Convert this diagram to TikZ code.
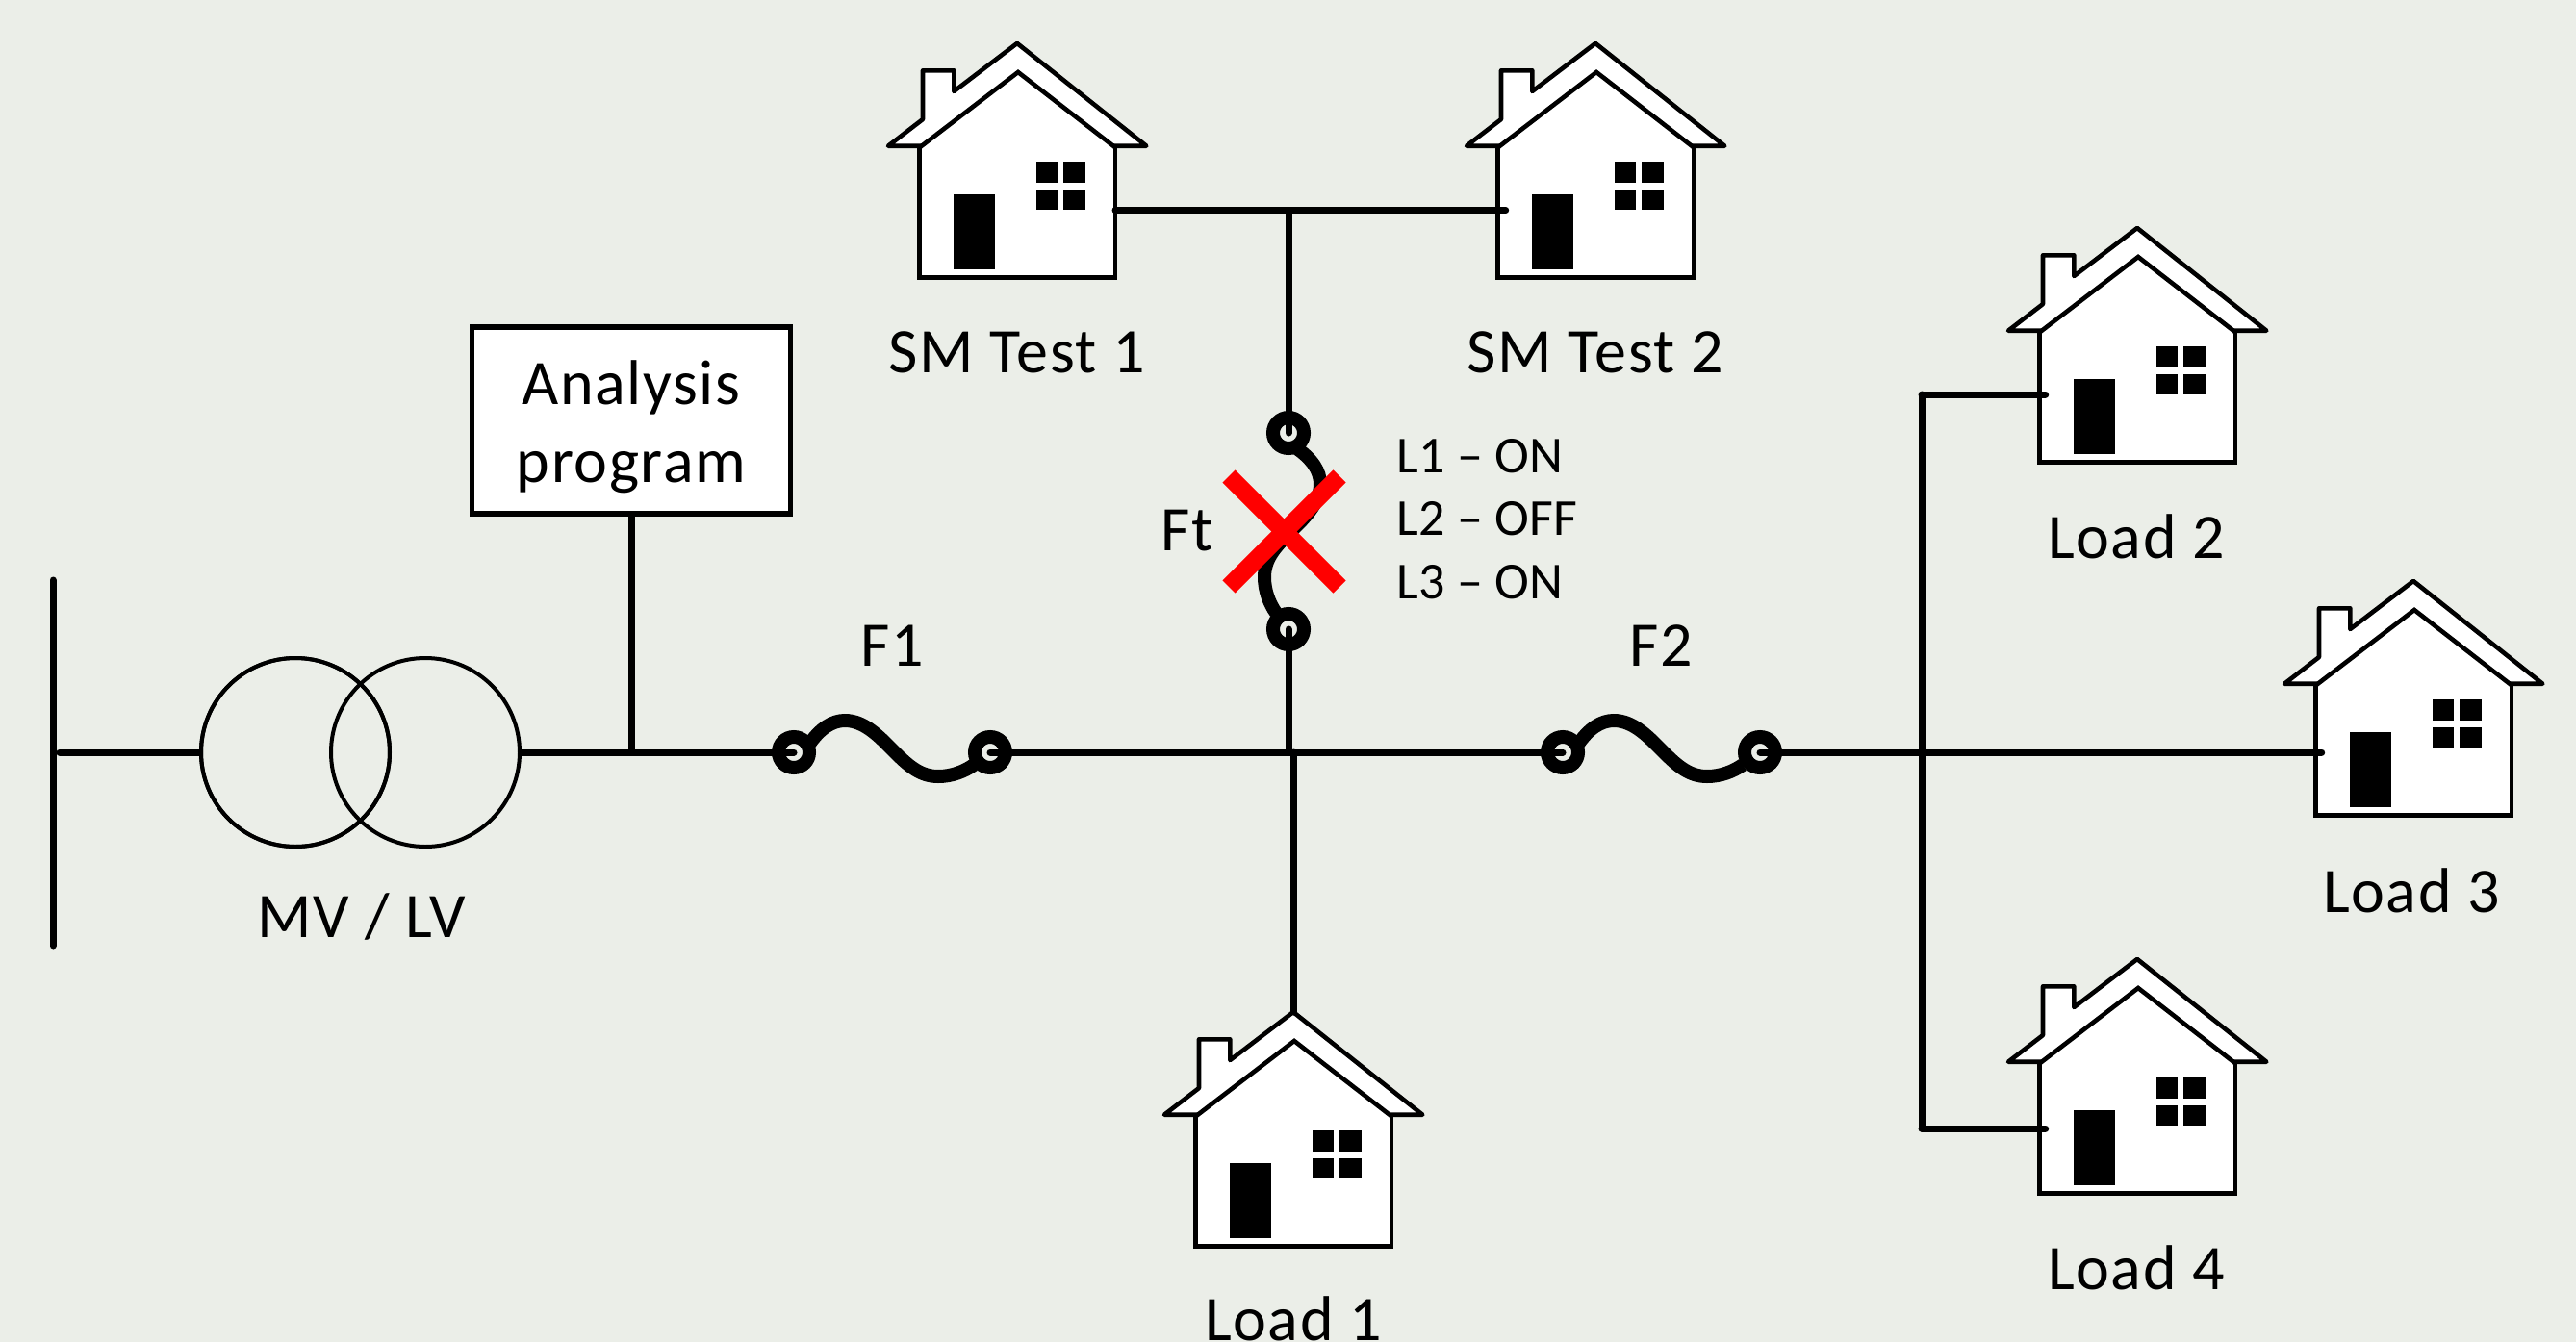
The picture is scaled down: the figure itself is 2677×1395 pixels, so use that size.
\documentclass[tikz,border=0pt]{standalone}
\usepackage{fontspec}
\setmainfont{Carlito}
\definecolor{bgc}{HTML}{EBEEE8}
\definecolor{redx}{HTML}{FF0000}
\newcommand{\bigf}{\fontsize{66}{70}\selectfont\addfontfeature{LetterSpace=2.5}}
\newcommand{\smallf}{\fontsize{54}{58}\selectfont\addfontfeature{LetterSpace=0.5}}
\tikzset{
  wire/.style={line width=7pt,line cap=round,black},
  outline/.style={line width=4.6pt,black,line join=miter},
  housebody/.style={fill=white,rectangle,inner sep=0pt,outer sep=0pt,minimum width=203.3pt,minimum height=135pt},
  term/.style={circle,draw=black,line width=14pt,fill=bgc,inner sep=0pt,minimum size=32pt},
  lab/.style={font=\bigf,inner sep=0pt,text=black},
  slab/.style={font=\smallf,inner sep=0pt,anchor=base west,text=black},
  coil/.style={draw=black,line width=4pt,circle,inner sep=0pt,minimum size=196pt},
  progbox/.style={draw=black,line width=5.2pt,fill=white,inner sep=0pt,minimum width=331pt,minimum height=194pt,align=center,font=\bigf},
  house/.pic={
    \fill[white] (0,0) -- (134.3,106.7) -- (-134,106.7) -- (-98,79) -- (-98,28.3) -- (-65.7,28.3) -- (-65.7,50) -- cycle;
    \draw[outline,line join=round] (0,0) -- (134.3,106.7) -- (-134,106.7) -- (-98,79) -- (-98,28.3) -- (-65.7,28.3) -- (-65.7,50) -- cycle;
    \fill[white] (-101.3,108.3) -- (1,30) -- (102,108.3) -- cycle;
    \node[housebody,anchor=north] (-body) at (0.35,108.3) {};
    \draw[outline] (-body.north west) -- (-body.south west) -- (-body.south east) -- (-body.north east);
    \draw[outline] (-101.3,108.3) -- (1,30) -- (102,108.3);
    \fill[black] (-65.7,157.3) rectangle (-23.3,235);
    \fill[black] (19.7,123) rectangle (42,145);
    \fill[black] (48.3,123) rectangle (71,145);
    \fill[black] (19.7,151.7) rectangle (42,173.3);
    \fill[black] (48.3,151.7) rectangle (71,173.3);
  },
  fusewave/.pic={
    \draw[black,line width=14pt] (-87,-7) .. controls (-75,-25) and (-62,-33) .. (-49,-33)
      .. controls (-28,-33) and (-12,-15) .. (3,0)
      .. controls (18,15) and (30,25) .. (48,25)
      .. controls (62,25) and (75,20) .. (85,13);
  },
}
\begin{document}
\begin{tikzpicture}[x=1pt,y=-1pt]
\useasboundingbox (0,0) rectangle (2677,1395);
\fill[bgc] (0,0) rectangle (2677,1395);

% junctions
\coordinate (jtx) at (656,782);
\coordinate (jft) at (1341,782);
\coordinate (jld) at (1997,782);
\coordinate (jsm) at (1339,218.5);
\coordinate (jl2) at (1997,410);
\coordinate (jl4) at (1997,1173);
\coordinate (bara) at (55,603);
\coordinate (barb) at (55,983);
\coordinate (barm) at (62,782);
\coordinate (l1top) at (1344,1052);

% houses
\pic (sm1) at (1057,45) {house};
\pic (sm2) at (1658,45) {house};
\pic (l2) at (2221,237) {house};
\pic (l3) at (2508,604) {house};
\pic (l4) at (2221,997) {house};
\pic (l1) at (1344,1052) {house};

% transformer
\node[coil] (tl) at (307,782) {};
\node[coil] (tr) at (442,782) {};
\node[coil,fill=none] (tl2) at (307,782) {};

% box
\node[progbox] (prog) at (656,437) {\rule{0pt}{60pt}Analysis\\[11pt]program};

% fuses
\pic at (927,782) {fusewave};
\pic at (1726,782) {fusewave};
\pic[rotate=-90] at (1339,552) {fusewave};
\node[term] (f1a) at (825,782) {};
\node[term] (f1b) at (1029,782) {};
\node[term] (f2a) at (1624,782) {};
\node[term] (f2b) at (1829,782) {};
\node[term] (fta) at (1339,450) {};
\node[term] (ftb) at (1339,654) {};

% connectors
\draw[wire] (bara) -- (barb);
\draw[wire] (barm) -- (tl.west);
\draw[wire] (tr.east) -- (f1a.center);
\draw[wire] (prog.south) -- (jtx);
\draw[wire] (f1b.center) -- (f2a.center);
\draw[wire] (f2b.center) -- (jld);
\draw[wire] (jld) -- ([xshift=6pt]jld -| l3-body.west);
\draw[wire] (jl2) -- (jl4);
\draw[wire] (jl2) -- ([xshift=6pt]jl2 -| l2-body.west);
\draw[wire] (jl4) -- ([xshift=6pt]jl4 -| l4-body.west);
\draw[wire] (jsm -| sm1-body.east) -- ([xshift=8pt]jsm -| sm2-body.west);
\draw[wire] (jsm) -- (fta.center);
\draw[wire] (ftb.center) -- (ftb |- jft);
\draw[wire] (l1top |- jft) -- (l1top);

% labels
\node[lab] (tmv) at (376,953) {MV / LV};
\node[lab] (tf1) at (927,671) {F1};
\node[lab] (tf2) at (1726,671) {F2};
\node[lab] (tft) at (1234,552) {Ft};
\node[lab] (ts1) at (1057,366) {SM Test 1};
\node[lab] (ts2) at (1658,366) {SM Test 2};
\node[lab] (tl2b) at (2220,558) {Load 2};
\node[lab] (tl3) at (2506,926) {Load 3};
\node[lab] (tl4) at (2220,1318) {Load 4};
\node[lab] (tl1) at (1344,1371) {Load 1};
\node[slab] (s1) at (1451,491) {L1 – ON};
\node[slab] (s2) at (1451,556) {L2 – OFF};
\node[slab] (s3) at (1451,622) {L3 – ON};

% red cross
\draw[redx,line width=18.5pt] (1277,495) -- (1392,610);
\draw[redx,line width=18.5pt] (1392,495) -- (1277,610);
\end{tikzpicture}
\end{document}
